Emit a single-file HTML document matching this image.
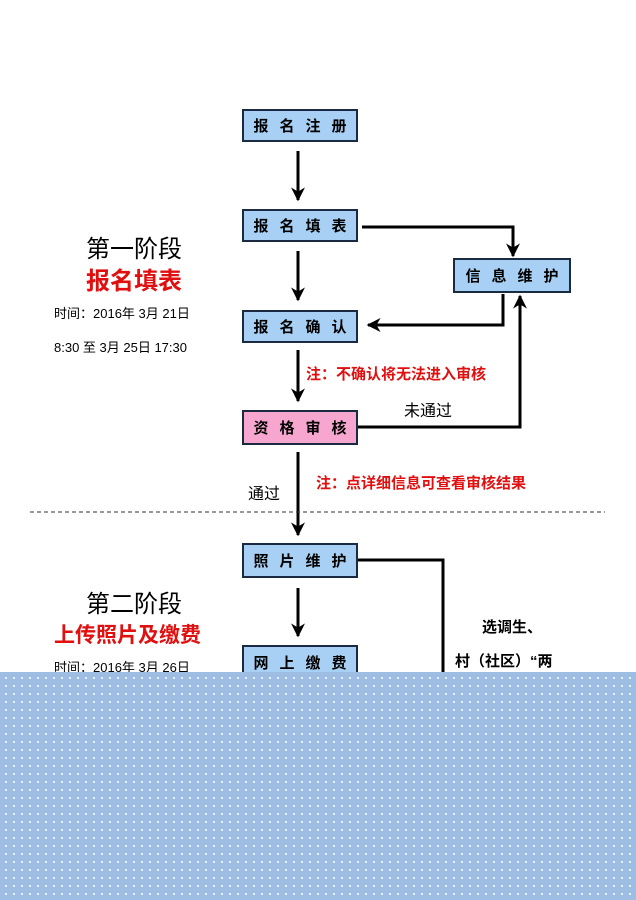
<!DOCTYPE html>
<html><head><meta charset="utf-8"><style>
body{margin:0;width:636px;height:900px;position:relative;overflow:hidden;background:#fff;font-family:"Liberation Sans","Noto Sans CJK SC",sans-serif}
.b{position:absolute;border:2px solid #1a2a40;background:#a8d0f4;font-weight:bold;font-size:15px;white-space:nowrap;letter-spacing:11px;box-sizing:border-box;display:flex;align-items:center;justify-content:center;padding-left:11px}
.t{position:absolute;white-space:nowrap}
.dots{position:absolute;left:0;top:672px;width:636px;height:228px;background-color:#9dbde3;background-image:radial-gradient(circle,#f4f8ff 0.9px,transparent 1.3px);background-size:8px 8px;background-position:2px 2px}
</style></head><body>
<svg width="636" height="900" style="position:absolute;left:0;top:0">
<defs>
<marker id="h" viewBox="0 0 10 10" markerWidth="14" markerHeight="14" refX="9" refY="5" orient="auto" markerUnits="userSpaceOnUse"><path d="M0,0 L10,5 L0,10 L3,5 z" fill="#000"/></marker></defs>
<g stroke="#000" stroke-width="3" fill="none">
<line x1="298" y1="151" x2="298" y2="200" marker-end="url(#h)"/>
<line x1="298" y1="251" x2="298" y2="300" marker-end="url(#h)"/>
<line x1="298" y1="350" x2="298" y2="401" marker-end="url(#h)"/>
<line x1="298" y1="452" x2="298" y2="535" marker-end="url(#h)"/>
<line x1="298" y1="588" x2="298" y2="636" marker-end="url(#h)"/>
<polyline points="362,227 513,227 513,256" marker-end="url(#h)"/>
<polyline points="503,294 503,325 368,325" marker-end="url(#h)"/>
<polyline points="358,427 520,427 520,296" marker-end="url(#h)"/>
<polyline points="358,560 443,560 443,680"/>
</g>
<line x1="30" y1="512" x2="605" y2="512" stroke="#333" stroke-width="1" stroke-dasharray="4,3"/>
</svg>
<div class="b" style="left:242px;top:109px;width:116px;height:33px">报名注册</div>
<div class="b" style="left:242px;top:209px;width:116px;height:33px">报名填表</div>
<div class="b" style="left:453px;top:258px;width:118px;height:35px">信息维护</div>
<div class="b" style="left:242px;top:310px;width:116px;height:33px">报名确认</div>
<div class="b" style="left:242px;top:410px;width:116px;height:35px;background:#f7a6cf">资格审核</div>
<div class="b" style="left:242px;top:543px;width:116px;height:35px">照片维护</div>
<div class="b" style="left:242px;top:645px;width:116px;height:35px">网上缴费</div>
<div class="t" style="left:86px;top:229px;font-size:24px">第一阶段</div>
<div class="t" style="left:86px;top:261px;font-size:24px;color:#e01010;font-weight:bold">报名填表</div>
<div class="t" style="left:54px;top:303px;font-size:13px">时间：2016年 3月 21日</div>
<div class="t" style="left:54px;top:337px;font-size:13px">8:30 至 3月 25日 17:30</div>
<div class="t" style="left:306px;top:363px;font-size:15px;color:#e01010;font-weight:bold">注：不确认将无法进入审核</div>
<div class="t" style="left:404px;top:397px;font-size:16px">未通过</div>
<div class="t" style="left:248px;top:480px;font-size:16px">通过</div>
<div class="t" style="left:316px;top:472px;font-size:15px;color:#e01010;font-weight:bold">注：点详细信息可查看审核结果</div>
<div class="t" style="left:86px;top:584px;font-size:24px">第二阶段</div>
<div class="t" style="left:54px;top:619px;font-size:21px;color:#e01010;font-weight:bold">上传照片及缴费</div>
<div class="t" style="left:54px;top:657px;font-size:13px">时间：2016年 3月 26日</div>
<div class="t" style="left:482px;top:616px;font-size:15px;font-weight:bold">选调生、</div>
<div class="t" style="left:455px;top:650px;font-size:15px;font-weight:bold">村（社区）“两</div>
<div class="dots"></div>
</body></html>
